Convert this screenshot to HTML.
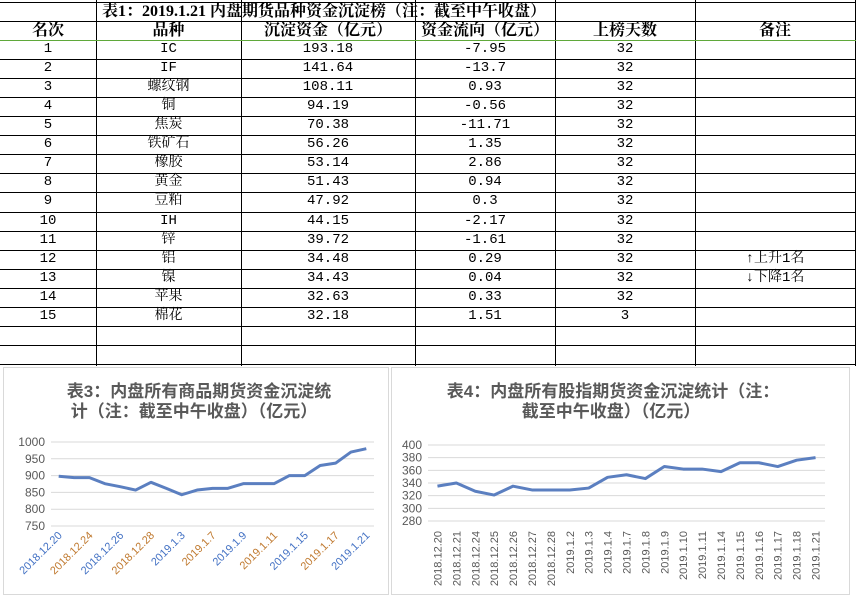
<!DOCTYPE html>
<html><head><meta charset="utf-8"><style>
html,body{margin:0;width:856px;height:595px;overflow:hidden;}
body{background:#fff;position:relative;font-family:"Liberation Serif","Noto Serif CJK SC",serif;}
.c{position:absolute;text-align:center;font-size:14px;line-height:19px;color:#000;white-space:nowrap;font-family:"Liberation Mono","Noto Serif CJK SC",monospace;}
.h{font-weight:bold;font-size:16px;font-family:"Liberation Serif","Noto Serif CJK SC",serif;}
.vl{position:absolute;top:0;width:1px;height:366px;background:#000;}
.hl{position:absolute;left:0;width:856px;height:1px;background:#000;}
.chart{position:absolute;background:#fff;border:1px solid #d9d9d9;overflow:hidden;}
</style></head><body>
<div id="table"></div>
<div class="c h" style="left:96px;top:2px;width:600px;text-align:left;padding-left:6px;">表1：2019.1.21 内盘期货品种资金沉淀榜（注：截至中午收盘）</div>
<div class="hl" style="top:40px;background:#5fa83a;"></div>

<svg class="chart" style="left:3px;top:367px" width="384" height="226" id="c1"></svg>
<svg class="chart" style="left:391px;top:367px" width="457" height="226" id="c2"></svg>

<script>
const colX=[0,96,241,415,555,695,855];
const heads=["名次","品种","沉淀资金（亿元）","资金流向（亿元）","上榜天数","备注"];
const varieties=["IC","IF","螺纹钢","铜","焦炭","铁矿石","橡胶","黄金","豆粕","IH","锌","铝","镍","苹果","棉花"];
const funds=["193.18","141.64","108.11","94.19","70.38","56.26","53.14","51.43","47.92","44.15","39.72","34.48","34.43","32.63","32.18"];
const flows=["-7.95","-13.7","0.93","-0.56","-11.71","1.35","2.86","0.94","0.3","-2.17","-1.61","0.29","0.04","0.33","1.51"];
const days=["32","32","32","32","32","32","32","32","32","32","32","32","32","32","3"];
const notes={11:"↑上升1名",12:"↓下降1名"};
const T=document.getElementById('table');
const RH=19.06;
function cell(txt,col,top,cls,name){
  const d=document.createElement('div');
  d.className='c '+cls;
  
  
  d.style.left=colX[col]+'px';d.style.width=(colX[col+1]-colX[col])+'px';d.style.top=top+'px';
  d.textContent=txt;T.appendChild(d);
}
for(let i=1;i<colX.length;i++){
  const v=document.createElement('div');v.className='vl';v.style.left=colX[i]+'px';
  
  
  T.appendChild(v);
}
[2,21].forEach(y=>{const h=document.createElement('div');h.className='hl';h.style.top=y+'px';
  
  
  T.appendChild(h);});
for(let k=1;k<=17;k++){const h=document.createElement('div');h.className='hl';h.style.top=Math.round(40+RH*k)+'px';
  
  
  T.appendChild(h);}
heads.forEach((t,i)=>cell(t,i,21,'h','header-cell'));
for(let r=0;r<15;r++){
  const top=Math.round(40+RH*r);
  cell(String(r+1),0,top,'','rank-cell');
  cell(varieties[r],1,top,'','variety-cell');
  cell(funds[r],2,top,'','fund-cell');
  cell(flows[r],3,top,'','flow-cell');
  cell(days[r],4,top,'','days-cell');
  if(notes[r]) cell(notes[r],5,top,'','note-cell');
}

const cats=["2018.12.20","2018.12.21","2018.12.24","2018.12.25","2018.12.26","2018.12.27","2018.12.28","2019.1.2","2019.1.3","2019.1.4","2019.1.7","2019.1.8","2019.1.9","2019.1.10","2019.1.11","2019.1.14","2019.1.15","2019.1.16","2019.1.17","2019.1.18","2019.1.21"];
const commodityVals=[898,894,894,876,867,857,880,862,843,857,862,862,876,876,876,900,900,930,937,970,980];
const indexVals=[335,340,327,321,335,329,329,329,332,349,353,347,366,362,362,358,372,372,366,376,380];
const ticks1=[750,800,850,900,950,1000];
const ticks2=[280,300,320,340,360,380,400];
const NS='http://www.w3.org/2000/svg';
function el(svg,tag,attrs,name){const e=document.createElementNS(NS,tag);for(const k in attrs)e.setAttribute(k,attrs[k]);
  
  
  svg.appendChild(e);return e;}
function draw(id,o){
  const s=document.getElementById(id);
  o.title.forEach((t,i)=>{const tx=el(s,'text',{x:o.tx[i],y:o.ty[i],'font-size':17,'font-weight':'bold',fill:'#595959','text-anchor':'middle','font-family':'"Liberation Sans","Noto Sans CJK SC",sans-serif'},'chart-title');tx.textContent=t;});
  const y=v=>o.y0+(v-o.min)/(o.max-o.min)*(o.y1-o.y0);
  const n=cats.length,step=(o.x1-o.x0)/n;
  const x=i=>o.x0+step*(i+0.5);
  o.ticks.forEach(t=>{el(s,'line',{x1:o.x0,x2:o.x1,y1:y(t),y2:y(t),stroke:'#d9d9d9','stroke-width':1},'gridline');
    const l=el(s,'text',{x:o.x0-6,y:y(t)+4,'font-size':12,fill:'#595959','text-anchor':'end','font-family':'"Liberation Sans",sans-serif'},'y-tick-label');l.textContent=t;});
  el(s,'polyline',{points:o.vals.map((v,i)=>x(i)+','+y(v)).join(' '),fill:'none',stroke:'#5b7fc0','stroke-width':3,'stroke-linejoin':'round'},'series-line');
  cats.forEach((c,i)=>{if(i%o.every)return;const lx=x(i)+4,ly=o.y0+10;
    const t=el(s,'text',{x:lx,y:ly,'font-size':o.fs,fill:o.lc?o.lc(i):'#595959','text-anchor':'end','font-family':'"Liberation Sans",sans-serif',transform:'rotate('+o.rot+' '+lx+' '+ly+')'},'x-tick-label');t.textContent=c;});
}
draw('c1',{title:["表3：内盘所有商品期货资金沉淀统","计（注：截至中午收盘）（亿元）"],tx:[195,190],ty:[29,49],x0:47,x1:370,y0:158,y1:74,min:750,max:1000,ticks:ticks1,vals:commodityVals,every:2,rot:-45,fs:11,lc:i=>i%4==0?'#4472c4':'#c07a30'});
draw('c2',{title:["表4：内盘所有股指期货资金沉淀统计（注：","截至中午收盘）（亿元）"],tx:[221,219],ty:[29,49],x0:36,x1:433,y0:153,y1:77,min:280,max:400,ticks:ticks2,vals:indexVals,every:1,rot:-90,fs:11});
</script>
</body></html>
